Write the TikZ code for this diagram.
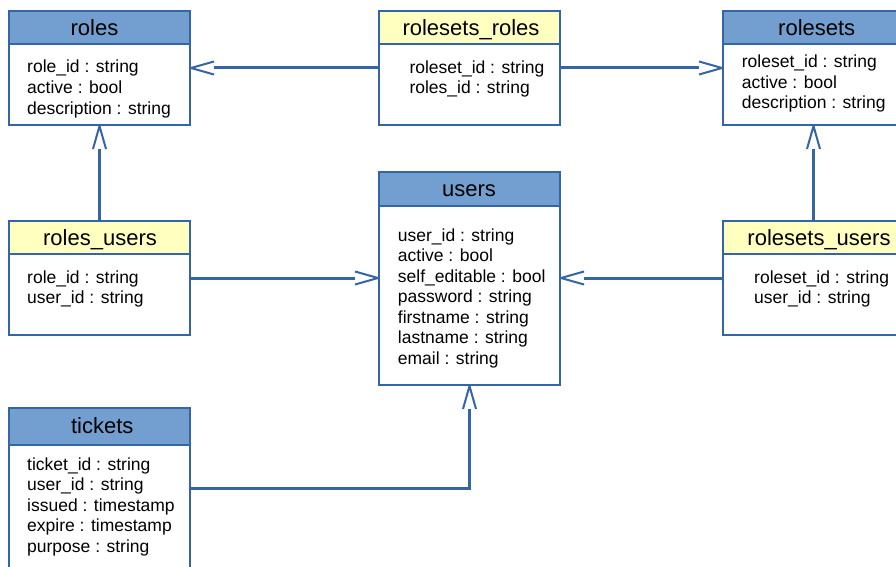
\documentclass[tikz,border=0pt]{standalone}
\usepackage{fontspec}
\setmainfont{Liberation Sans}
\usetikzlibrary{arrows.meta}

\definecolor{hdrblue}{HTML}{729FCF}
\definecolor{hdryellow}{HTML}{FFFFC0}
\definecolor{edgeblue}{HTML}{3465A4}

% open "V" head; the shaft stops where the barbs end
\pgfdeclarearrow{
  name = OpenVee,
  setup code = {
    \pgfarrowssettipend{0pt}
    \pgfarrowssetlineend{-24pt}
    \pgfarrowssetbackend{-24pt}
    \pgfarrowshullpoint{0pt}{0pt}
    \pgfarrowsupperhullpoint{-24pt}{6.5pt}
  },
  drawing code = {
    \pgfsetdash{}{0pt}
    \pgfsetlinewidth{2pt}
    \pgfsetroundjoin
    \pgfsetbuttcap
    \pgfpathmoveto{\pgfqpoint{-24pt}{6.5pt}}
    \pgfpathlineto{\pgfqpoint{-1pt}{0pt}}
    \pgfpathlineto{\pgfqpoint{-24pt}{-6.5pt}}
    \pgfusepathqstroke
  }
}

% attribute lists are placed by the baseline of their last line
\tikzset{
  tablehead/.style={rectangle, draw=edgeblue, line width=1.2pt, anchor=north west,
    inner sep=0pt, outer sep=0pt, minimum width=181pt},
  entity/.style={tablehead, fill=hdrblue},
  link/.style={tablehead, fill=hdryellow},
  tablebody/.style={tablehead, fill=white},
  title/.style={anchor=base, inner sep=0pt, font=\fontsize{22}{26}\selectfont},
  attrs/.style={anchor=base west, inner sep=0pt, align=left,
    font=\fontsize{17.5}{20.5}\selectfont},
  conn/.style={draw=edgeblue, line width=3pt, -OpenVee},
}

\begin{document}
\begin{tikzpicture}[x=1pt, y=-1pt]
\useasboundingbox (0,0) rectangle (896,567);
\clip (0,0) rectangle (896,567);
\fill[white] (0,0) rectangle (896,567);

% roles
\node[tablebody, minimum height=81pt] (roles-body) at (9,44) {};
\node[entity, minimum height=33pt] (roles-head) at (9,11) {};
\node[title] (roles-title) at (94.5,35.7) {roles};
\node[attrs] (roles-attr) at (27,114) {role\_id : string\\active : bool\\description : string};

% rolesets_roles
\node[tablebody, minimum height=81pt] (rr-body) at (379,44) {};
\node[link, minimum height=33pt] (rr-head) at (379,11) {};
\node[title] (rr-title) at (471,35.2) {rolesets\_roles};
\node[attrs] (rr-attr) at (409.3,93.8) {roleset\_id : string\\roles\_id : string};

% rolesets
\node[tablebody, minimum height=81pt] (rs-body) at (723,44) {};
\node[entity, minimum height=33pt] (rs-head) at (723,11) {};
\node[title] (rs-title) at (816.7,35.7) {rolesets};
\node[attrs] (rs-attr) at (741.7,108.7) {roleset\_id : string\\active : bool\\description : string};

% roles_users
\node[tablebody, minimum height=81pt] (ru-body) at (9,254) {};
\node[link, minimum height=33pt] (ru-head) at (9,221) {};
\node[title] (ru-title) at (100,245.7) {roles\_users};
\node[attrs] (ru-attr) at (27,303.8) {role\_id : string\\user\_id : string};

% users
\node[tablebody, minimum height=179pt] (users-body) at (379,206) {};
\node[entity, minimum height=34pt] (users-head) at (379,172) {};
\node[title] (users-title) at (469,196.7) {users};
\node[attrs] (users-attr) at (397.7,364) {user\_id : string\\active : bool\\self\_editable : bool\\password : string\\firstname : string\\lastname : string\\email : string};

% rolesets_users
\node[tablebody, minimum height=81pt] (rsu-body) at (723,254) {};
\node[link, minimum height=33pt] (rsu-head) at (723,221) {};
\node[title] (rsu-title) at (819,245.7) {rolesets\_users};
\node[attrs] (rsu-attr) at (754,303.8) {roleset\_id : string\\user\_id : string};

% tickets
\node[tablebody, minimum height=160pt] (tk-body) at (9,445) {};
\node[entity, minimum height=37pt] (tk-head) at (9,408) {};
\node[title] (tk-title) at (102.3,433) {tickets};
\node[attrs] (tk-attr) at (27,552) {ticket\_id : string\\user\_id : string\\issued : timestamp\\expire : timestamp\\purpose : string};

% connectors
\draw[conn] ([yshift=-24pt]rr-body.north west) -- ([yshift=-24pt]roles-body.north east);
\draw[conn] ([yshift=-24pt]rr-body.north east) -- ([yshift=-24pt]rs-body.north west);
\draw[conn] (ru-head.north) -- (roles-body.south);
\draw[conn] (rsu-head.north) -- (rs-body.south);
\coordinate (ru-out) at ([yshift=-24pt]ru-body.north east);
\draw[conn] (ru-out) -- (ru-out -| users-body.west);
\coordinate (rsu-out) at ([yshift=-24pt]rsu-body.north west);
\draw[conn] (rsu-out) -- (rsu-out -| users-body.east);
\coordinate (tk-out) at ([yshift=-43pt]tk-body.north east);
\draw[conn] (tk-out) -| (users-body.south);
\end{tikzpicture}
\end{document}
